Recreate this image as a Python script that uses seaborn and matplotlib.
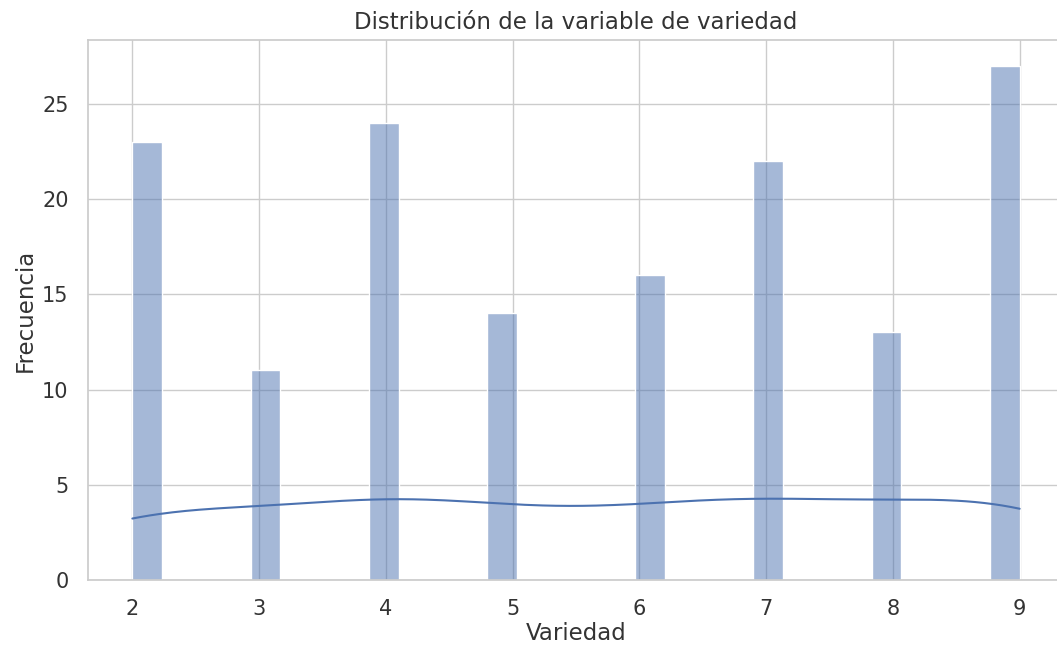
import numpy as np
import pandas as pd
import matplotlib
matplotlib.use("Agg")
import matplotlib.pyplot as plt
import seaborn as sns

# Valores de la variable y su frecuencia
variedad = [2, 3, 4, 5, 6, 7, 8, 9]
frecuencia = [23, 11, 24, 14, 16, 22, 13, 27]

df = pd.DataFrame({"variedad": np.repeat(variedad, frecuencia)})

sns.set_theme(style="whitegrid")

fig = plt.figure(figsize=(10.57, 6.51), dpi=100)
ax = fig.add_axes([88 / 1057, 71 / 651, 976 / 1057, 540 / 651])

sns.histplot(df["variedad"], bins=30, kde=True, ax=ax)
ax.set_title("Distribución de la variable de variedad", fontsize=16.5, pad=8, color="#333333")
ax.set_xlabel("Variedad", fontsize=16.5, labelpad=2, color="#333333")
ax.set_ylabel("Frecuencia", fontsize=16.5, labelpad=4, color="#333333")
ax.tick_params(labelsize=15, pad=8, labelcolor="#333333")

fig.savefig("out.png", dpi=100)
